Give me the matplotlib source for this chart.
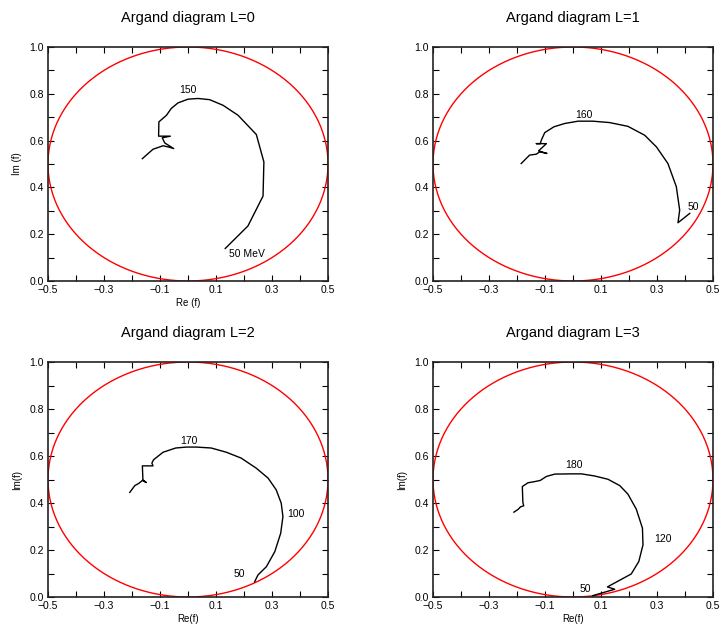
import matplotlib.pyplot as plt
import numpy as np

plt.rcParams['font.family'] = ['Liberation Sans', 'DejaVu Sans']

# Argand curves, starting from the 50 MeV end
re_L0 = [0.133, 0.214, 0.268, 0.271, 0.244, 0.179, 0.125, 0.077, 0.036, 0.0, -0.036, -0.060,
         -0.077, -0.104, -0.105, -0.063, -0.092, -0.083, -0.051, -0.071, -0.089, -0.125, -0.163]
im_L0 = [0.139, 0.235, 0.363, 0.509, 0.626, 0.708, 0.751, 0.775, 0.780, 0.777, 0.761, 0.737,
         0.708, 0.680, 0.619, 0.619, 0.612, 0.590, 0.566, 0.573, 0.578, 0.563, 0.523]

re_L1 = [0.417, 0.375, 0.381, 0.369, 0.339, 0.298, 0.256, 0.196, 0.131, 0.071, 0.018, -0.030,
         -0.068, -0.101, -0.113, -0.117, -0.131, -0.095, -0.123, -0.093, -0.119, -0.131, -0.155, -0.185]
im_L1 = [0.289, 0.249, 0.303, 0.403, 0.502, 0.573, 0.623, 0.661, 0.677, 0.683, 0.683, 0.673,
         0.659, 0.634, 0.602, 0.587, 0.587, 0.587, 0.556, 0.545, 0.552, 0.542, 0.538, 0.502]

re_L2 = [0.238, 0.250, 0.280, 0.310, 0.331, 0.339, 0.333, 0.315, 0.286, 0.244, 0.190, 0.137,
         0.083, 0.030, -0.006, -0.044, -0.089, -0.123, -0.129, -0.125, -0.163, -0.161, -0.149,
         -0.163, -0.175, -0.190, -0.208]
im_L2 = [0.065, 0.094, 0.129, 0.193, 0.271, 0.342, 0.399, 0.456, 0.506, 0.548, 0.591, 0.616,
         0.634, 0.638, 0.638, 0.634, 0.616, 0.584, 0.570, 0.558, 0.558, 0.499, 0.487,
         0.496, 0.484, 0.474, 0.445]

re_L3 = [0.071, 0.149, 0.123, 0.208, 0.235, 0.250, 0.248, 0.226, 0.196, 0.167, 0.125, 0.077,
         0.030, -0.006, -0.065, -0.095, -0.117, -0.137, -0.161, -0.181, -0.179, -0.176, -0.187,
         -0.196, -0.211]
im_L3 = [0.006, 0.033, 0.043, 0.098, 0.151, 0.222, 0.293, 0.374, 0.438, 0.474, 0.501, 0.515,
         0.524, 0.524, 0.523, 0.513, 0.496, 0.491, 0.486, 0.470, 0.402, 0.388, 0.384,
         0.373, 0.361]

# energy labels (text, x, y)
labels_L0 = [("150", 0.0, 0.818), ("50 MeV", 0.21, 0.114)]
labels_L1 = [("160", 0.039, 0.711), ("50", 0.431, 0.317)]
labels_L2 = [("170", 0.004, 0.662), ("100", 0.387, 0.354), ("50", 0.182, 0.097)]
labels_L3 = [("180", 0.004, 0.560), ("120", 0.321, 0.247), ("50", 0.044, 0.036)]

titles = ["Argand diagram L=0", "Argand diagram L=1", "Argand diagram L=2", "Argand diagram L=3"]
xlabels = ["Re (f)", "", "Re(f)", "Re(f)"]
ylabels = ["Im (f)", "", "Im(f)", "Im(f)"]

x_ticks = [-0.5, -0.3, -0.1, 0.1, 0.3, 0.5]
x_ticklabels = ["\u22120.5", "\u22120.3", "\u22120.1", "0.1", "0.3", "0.5"]
y_ticks = [0.0, 0.2, 0.4, 0.6, 0.8, 1.0]
y_ticklabels = ["0.0", "0.2", "0.4", "0.6", "0.8", "1.0"]

curves = [(re_L0, im_L0, labels_L0), (re_L1, im_L1, labels_L1),
          (re_L2, im_L2, labels_L2), (re_L3, im_L3, labels_L3)]

fig = plt.figure(figsize=(7.22, 6.29), dpi=100)
positions = [
    [48 / 722, 1 - 281 / 629, 280 / 722, 234 / 629],
    [433 / 722, 1 - 281 / 629, 280 / 722, 234 / 629],
    [48 / 722, 1 - 597 / 629, 280 / 722, 235 / 629],
    [433 / 722, 1 - 597 / 629, 280 / 722, 235 / 629],
]

# unitarity circle
theta = np.linspace(0, 2 * np.pi, 400)
circ_x = 0.5 * np.cos(theta)
circ_y = 0.5 + 0.5 * np.sin(theta)

for i, (re, im, labs) in enumerate(curves):
    ax = fig.add_axes(positions[i])
    ax.plot(circ_x, circ_y, color='red', linewidth=1.0, zorder=2)
    ax.plot(re, im, color='black', linewidth=1.0, zorder=3)
    for txt, tx, ty in labs:
        ax.text(tx, ty, txt, fontsize=7.5, ha='center', va='center')

    ax.set_xlim(-0.5, 0.5)
    ax.set_ylim(0, 1)
    ax.set_xticks(x_ticks)
    ax.set_xticklabels(x_ticklabels)
    ax.set_yticks(y_ticks)
    ax.set_yticklabels(y_ticklabels)
    ax.set_xticks(np.arange(-0.4, 0.41, 0.2), minor=True)
    ax.set_yticks(np.arange(0.1, 1.0, 0.2), minor=True)
    ax.tick_params(which='both', direction='in', top=True, right=True,
                   labelsize=7.5, width=0.8, pad=3, length=4)
    for sp in ax.spines.values():
        sp.set_linewidth(1.2)
        sp.set_color('#222222')

    ax.set_title(titles[i], fontsize=10.5, pad=18)
    if xlabels[i]:
        ax.set_xlabel(xlabels[i], fontsize=7, labelpad=2)
    if ylabels[i]:
        ax.set_ylabel(ylabels[i], fontsize=7, labelpad=5)

plt.savefig('out.png', dpi=100)
